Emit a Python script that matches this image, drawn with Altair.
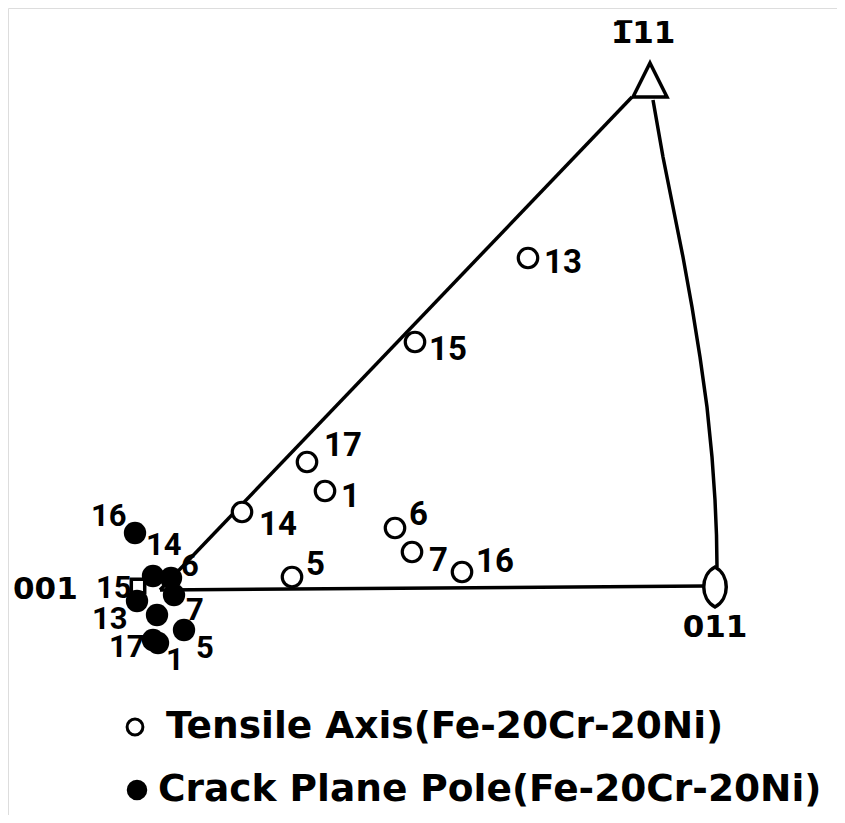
import altair as alt
import pandas as pd

# ---- data (image-like units: x to the right, y downward) ----
# Tensile axis (open circles)
tensile_id = ["17", "1", "14", "6", "7", "16", "5", "13", "15"]
tensile_x = [307, 325, 242, 395, 412, 462, 292, 528, 415]
tensile_y = [462, 491, 512, 528, 552, 572, 577, 258, 342]
tensile_lx = [325, 342, 260, 410, 430, 477, 307, 545, 430]
tensile_ly = [446, 497, 525, 515, 561, 562, 565, 263, 350]

# Crack plane pole (filled dots)
crack_id = ["16", "14", "6", "15", "7", "13", "17", "1", "5"]
crack_x = [135, 153, 171, 137, 174, 157, 153, 158, 184]
crack_y = [533, 576, 578, 601, 595, 615, 640, 643, 630]
crack_lx = [92, 147, 182, 97, 187, 93, 110, 167, 197]
crack_ly = [517, 546, 567, 589, 611, 620, 648, 661, 649]

# Stereographic triangle boundary
edge_group = ["left", "left", "base", "base"] + ["arc"] * 11
edge_order = [0, 1, 0, 1] + list(range(11))
edge_x = [160, 632, 160, 705, 653, 663, 673, 683, 692, 700, 707, 712, 715, 716.5, 717]
edge_y = [590, 97, 590, 586, 100, 157, 207, 257, 307, 357, 407, 457, 500, 535, 567]

# Corner poles
pole_name = ["001", "011", "1\u030511"]
pole_mx = [138, 715, 650]
pole_my = [586, 587, 80]
pole_shape = ["square",
              "M0,-1 C0.75,-0.6 0.75,0.6 0,1 C-0.75,0.6 -0.75,-0.6 0,-1 Z",
              "M0,-1 L1,1 L-1,1 Z"]
pole_size = [180, 1600, 1156]
pole_lx = [13, 715, 643]
pole_ly = [590, 628, 34]
pole_align = ["left", "center", "center"]

# Legend
legend_text = ["Tensile  Axis(Fe-20Cr-20Ni)", "Crack Plane Pole(Fe-20Cr-20Ni)"]
legend_filled = [False, True]
legend_sx = [135, 137]
legend_sy = [727, 790]
legend_tx = [166, 158]

W, H = 829, 807
xs = alt.Scale(domain=[8, 8 + W], nice=False, zero=False)
ys = alt.Scale(domain=[8, 8 + H], nice=False, zero=False, reverse=True)

edges = pd.DataFrame({"g": edge_group, "o": edge_order, "x": edge_x, "y": edge_y})
tens = pd.DataFrame({"id": tensile_id, "x": tensile_x, "y": tensile_y,
                     "lx": tensile_lx, "ly": tensile_ly})
crack = pd.DataFrame({"id": crack_id, "x": crack_x, "y": crack_y,
                      "lx": crack_lx, "ly": crack_ly})
poles = pd.DataFrame({"name": pole_name, "mx": pole_mx, "my": pole_my,
                      "shape": pole_shape, "size": pole_size,
                      "lx": pole_lx, "ly": pole_ly, "align": pole_align})
leg = pd.DataFrame({"text": legend_text, "filled": legend_filled,
                    "sx": legend_sx, "sy": legend_sy, "tx": legend_tx})

X = lambda f: alt.X(f, type="quantitative", scale=xs, axis=None)
Y = lambda f: alt.Y(f, type="quantitative", scale=ys, axis=None)

num_font = "Roboto"
pole_font = "DejaVu Sans"

edge_layer = alt.Chart(edges).mark_line(color="black", strokeWidth=3.5).encode(
    x=X("x"), y=Y("y"), detail="g:N", order="o:Q")

pole_markers = alt.Chart(poles).mark_point(
    filled=True, fill="white", stroke="black", strokeWidth=3.5, opacity=1).encode(
    x=X("mx"), y=Y("my"),
    shape=alt.Shape("shape:N", scale=None),
    size=alt.Size("size:Q", scale=None))

pole_labels_l = alt.Chart(poles[poles["align"] == "left"]).mark_text(
    align="left", baseline="middle", font=pole_font, fontSize=31, fontWeight="bold").encode(
    x=X("lx"), y=Y("ly"), text="name:N")
pole_labels_c = alt.Chart(poles[poles["align"] == "center"]).mark_text(
    align="center", baseline="middle", font=pole_font, fontSize=31, fontWeight="bold").encode(
    x=X("lx"), y=Y("ly"), text="name:N")

tens_pts = alt.Chart(tens).mark_point(
    shape="circle", size=380, stroke="black", strokeWidth=3.2, fill="white",
    filled=True, opacity=1).encode(x=X("x"), y=Y("y"))
tens_lbl = alt.Chart(tens).mark_text(
    align="left", baseline="middle", font=num_font, fontSize=33, fontWeight="bold",
    dx=-1).encode(x=X("lx"), y=Y("ly"), text="id:N")

crack_pts = alt.Chart(crack).mark_point(
    shape="circle", size=500, color="black", filled=True, opacity=1).encode(
    x=X("x"), y=Y("y"))
crack_lbl = alt.Chart(crack).mark_text(
    align="left", baseline="middle", font=num_font, fontSize=31, fontWeight="bold",
    dx=-1).encode(x=X("lx"), y=Y("ly"), text="id:N")

leg_open = alt.Chart(leg[~leg["filled"]]).mark_point(
    shape="circle", size=250, stroke="black", strokeWidth=3, fill="white",
    filled=True, opacity=1).encode(x=X("sx"), y=Y("sy"))
leg_fill = alt.Chart(leg[leg["filled"]]).mark_point(
    shape="circle", size=420, color="black", filled=True, opacity=1).encode(
    x=X("sx"), y=Y("sy"))
leg_text = alt.Chart(leg).mark_text(
    align="left", baseline="middle", font="DejaVu Sans", fontSize=37.5,
    fontWeight="bold").encode(
    x=X("tx"), y=Y("sy"), text="text:N")

chart = alt.layer(
    edge_layer, pole_markers, pole_labels_l, pole_labels_c,
    tens_pts, tens_lbl, crack_pts, crack_lbl,
    leg_open, leg_fill, leg_text
).properties(
    width=W, height=H, padding=0,
    autosize=alt.AutoSizeParams(type="none")
).configure_view(strokeWidth=0, stroke="transparent").configure(background="white")

chart.save("out.html", embed_options={"renderer": "svg", "actions": False})
